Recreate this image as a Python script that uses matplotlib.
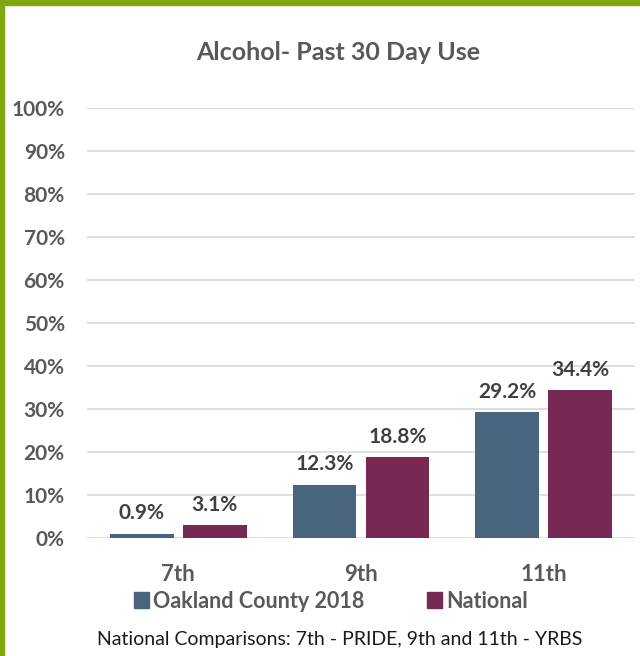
import matplotlib.pyplot as plt
import matplotlib.patches as mpatches
import numpy as np

grades = ['7th', '9th', '11th']
oakland = [0.9, 12.3, 29.2]
national = [3.1, 18.8, 34.4]
series_names = ['Oakland County 2018', 'National']
title = 'Alcohol- Past 30 Day Use'
footnote = 'National Comparisons: 7th - PRIDE, 9th and 11th - YRBS'

plt.rcParams['font.family'] = ['Lato', 'DejaVu Sans']

blue = '#48647F'
purple = '#772953'
gray = '#595959'
green = '#80A80E'

fig = plt.figure(figsize=(6.4, 6.56), dpi=100)
ax = fig.add_axes([87/640, 1 - 538/656, 548/640, 430/656])

x = np.arange(len(grades))
w = 0.35
ax.bar(x - 0.2, oakland, w, color=blue, zorder=3)
ax.bar(x + 0.2, national, w, color=purple, zorder=3)

for xi, v in zip(x - 0.2, oakland):
    ax.text(xi, v + 2.5, '{:.1f}%'.format(v), ha='center', va='bottom',
            fontsize=15, fontweight='bold', color='#404040')
for xi, v in zip(x + 0.2, national):
    ax.text(xi, v + 2.3, '{:.1f}%'.format(v), ha='center', va='bottom',
            fontsize=15, fontweight='bold', color='#404040')

ax.set_xlim(-0.5, 2.5)
ax.set_ylim(0, 100)
ax.set_yticks(range(0, 101, 10))
ax.set_yticklabels(['{}%'.format(t) for t in range(0, 101, 10)])
ax.set_xticks(x)
ax.set_xticklabels(grades)
ax.grid(axis='y', color='#D9D9D9', linewidth=1.2, zorder=0)
for s in ax.spines.values():
    s.set_visible(False)
ax.tick_params(length=0, colors=gray)
ax.tick_params(axis='y', pad=16, labelsize=15)
ax.tick_params(axis='x', pad=19, labelsize=16)
for lab in ax.get_xticklabels() + ax.get_yticklabels():
    lab.set_fontweight('bold')

fig.text(338/640, 1 - 52/656, title, ha='center', va='center',
         fontsize=18, fontweight='bold', color=gray)

handles = [mpatches.Patch(color=blue), mpatches.Patch(color=purple)]
leg = fig.legend(handles, series_names, loc='center', bbox_to_anchor=(331/640, 1 - 601/656),
                 ncol=2, frameon=False, handlelength=0.7, handleheight=0.7,
                 handletextpad=0.2, columnspacing=2.9,
                 prop={'size': 15.5, 'weight': 'bold'})
for t in leg.get_texts():
    t.set_color(gray)

fig.text(340/640, 1 - 640/656, footnote, ha='center', va='center',
         fontsize=14, color='#1a1a1a')

# green frame on left and top
fig.patches.append(mpatches.Rectangle((0, 0), 4/640, 1, transform=fig.transFigure,
                                      color=green, zorder=10))
fig.patches.append(mpatches.Rectangle((0, 1 - 5/656), 1, 5/656, transform=fig.transFigure,
                                      color=green, zorder=10))

fig.savefig('out.png', dpi=100)
